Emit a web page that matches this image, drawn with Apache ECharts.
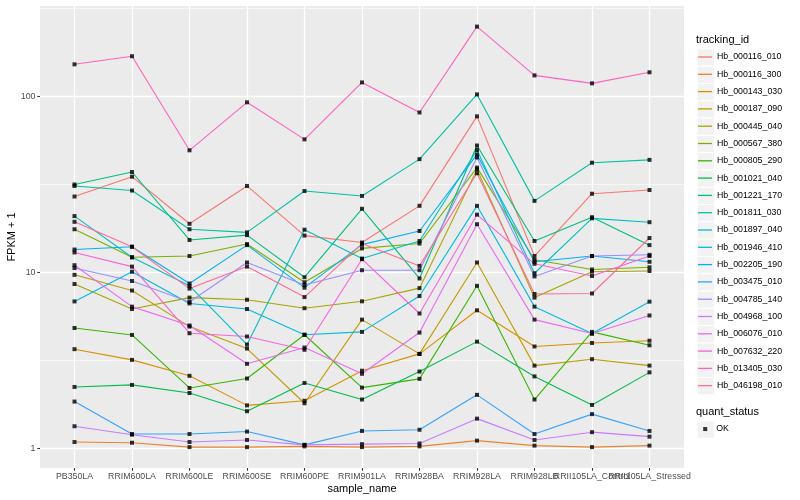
<!DOCTYPE html>
<html><head><meta charset="utf-8">
<script src="https://cdn.jsdelivr.net/npm/echarts@6/dist/echarts.min.js"></script>
<style>html,body{margin:0;padding:0;background:#fff}#c{width:800px;height:500px}</style>
</head><body><div id="c"></div>
<script>
const categories = ['PB350LA','RRIM600LA','RRIM600LE','RRIM600SE','RRIM600PE','RRIM901LA','RRIM928BA','RRIM928LA','RRIM928LB','RRII105LA_Control','RRII105LA_Stressed'];
const trackingIds = ['Hb_000116_010','Hb_000116_300','Hb_000143_030','Hb_000187_090','Hb_000445_040','Hb_000567_380','Hb_000805_290','Hb_001021_040','Hb_001221_170','Hb_001811_030','Hb_001897_040','Hb_001946_410','Hb_002205_190','Hb_003475_010','Hb_004785_140','Hb_004968_100','Hb_006076_010','Hb_007632_220','Hb_013405_030','Hb_046198_010'];
const colors = ['#F8766D','#EA8331','#D89000','#C09B00','#A3A500','#7CAE00','#39B600','#00BB4E','#00BF7D','#00C1A3','#00BFC4','#00BAE0','#00B0F6','#35A2FF','#9590FF','#C77CFF','#E76BF3','#FA62DB','#FF62BC','#FF6C91'];

// FPKM + 1 values, one array per tracking_id, in category order
const Hb_000116_010 = [27.0, 35.0, 18.9, 31.0, 16.2, 14.8, 23.9, 77, 12.4, 28.0, 29.4];
const Hb_000116_300 = [1.09, 1.08, 1.02, 1.02, 1.03, 1.02, 1.03, 1.11, 1.04, 1.02, 1.04];
const Hb_000143_030 = [3.67, 3.19, 2.59, 1.76, 1.87, 2.77, 3.45, 6.1, 3.8, 3.98, 4.1];
const Hb_000187_090 = [9.7, 7.9, 4.93, 3.7, 1.81, 5.4, 3.45, 11.4, 2.96, 3.22, 2.96];
const Hb_000445_040 = [8.6, 6.2, 7.2, 7.0, 6.27, 6.86, 8.15, 38.5, 7.2, 10.1, 10.2];
const Hb_000567_380 = [17.6, 12.2, 12.4, 14.5, 8.8, 13.7, 14.6, 39.4, 11.8, 10.4, 10.7];
const Hb_000805_290 = [4.84, 4.42, 2.21, 2.5, 4.43, 2.22, 2.49, 8.4, 1.9, 4.6, 3.86];
const Hb_001021_040 = [2.24, 2.3, 2.07, 1.63, 2.36, 1.9, 2.74, 4.05, 2.57, 1.77, 2.71];
const Hb_001221_170 = [31.6, 37.2, 15.3, 16.3, 9.4, 23.0, 9.25, 52.6, 15.1, 20.6, 14.3];
const Hb_001811_030 = [31.0, 29.2, 17.6, 16.9, 29.0, 27.2, 44.0, 102.6, 25.5, 42.0, 43.6];
const Hb_001897_040 = [20.9, 12.2, 8.4, 3.9, 17.5, 12.0, 15.1, 49.6, 9.9, 20.3, 19.3];
const Hb_001946_410 = [6.85, 10.1, 6.67, 6.2, 4.43, 4.6, 7.35, 23.9, 6.4, 4.5, 6.83];
const Hb_002205_190 = [13.5, 14.0, 8.66, 14.3, 8.2, 14.4, 17.2, 46.8, 11.5, 12.4, 11.5];
const Hb_003475_010 = [1.85, 1.21, 1.21, 1.25, 1.05, 1.26, 1.28, 2.02, 1.21, 1.57, 1.26];
const Hb_004785_140 = [10.6, 8.95, 6.8, 11.4, 8.5, 10.3, 10.3, 45, 9.5, 12.4, 12.6];
const Hb_004968_100 = [1.34, 1.2, 1.09, 1.12, 1.05, 1.06, 1.07, 1.48, 1.12, 1.24, 1.17];
const Hb_006076_010 = [11.0, 6.4, 5.0, 3.03, 3.75, 2.66, 4.56, 18.8, 5.4, 4.5, 5.7];
const Hb_007632_220 = [13.0, 10.8, 4.52, 4.33, 3.64, 11.9, 5.85, 21.3, 11.2, 9.55, 12.4];
const Hb_013405_030 = [152, 169, 49.4, 92.5, 57, 120, 81, 249, 131.5, 118.5, 137];
const Hb_046198_010 = [19.4, 14.0, 8.1, 10.8, 7.25, 14.6, 10.9, 36.6, 7.55, 7.6, 15.7];

const yTickValues = [1, 10, 100];
const yTickLabels = ['1', '10', '100'];
const yMinorValues = [3.1623, 31.623, 316.23];
const quantStatus = ['OK'];

const seriesValues = [Hb_000116_010,Hb_000116_300,Hb_000143_030,Hb_000187_090,Hb_000445_040,Hb_000567_380,Hb_000805_290,Hb_001021_040,Hb_001221_170,Hb_001811_030,Hb_001897_040,Hb_001946_410,Hb_002205_190,Hb_003475_010,Hb_004785_140,Hb_004968_100,Hb_006076_010,Hb_007632_220,Hb_013405_030,Hb_046198_010];

const font = '"Liberation Sans", Arial, Helvetica, sans-serif';
const lg = v => Math.log10(v);
const yMin = -0.11, yMax = 2.513;
const xMin = -0.6, xMax = 10.6;

const series = trackingIds.map((id, k) => ({
  name: id, type: 'line', xAxisIndex: 0, yAxisIndex: 0,
  data: seriesValues[k].map((v, i) => [i, lg(v)]),
  symbol: 'none', showSymbol: false,
  lineStyle: { color: colors[k], width: 1.1 },
  itemStyle: { color: colors[k] },
  emphasis: { disabled: true }, silent: true, z: 2
}));
const pts = [];
seriesValues.forEach(arr => arr.forEach((v, i) => pts.push([i, lg(v)])));
series.push({
  name: 'OK', type: 'scatter', xAxisIndex: 0, yAxisIndex: 0, data: pts,
  symbol: 'rect', symbolSize: 4, itemStyle: { color: '#000' },
  emphasis: { disabled: true }, silent: true, z: 3
});

const keyTop = 48.35, keyH = 17.3;
const keyRects = trackingIds.map((id, i) => ({
  type: 'rect', left: 696.5, top: keyTop + i * keyH,
  shape: { width: 17.3, height: 17.3 },
  style: { fill: '#F2F2F2', stroke: '#ffffff', lineWidth: 1 }, z: -1
}));
keyRects.push({
  type: 'rect', left: 696.5, top: 420.4,
  shape: { width: 17.3, height: 17.3 },
  style: { fill: '#F2F2F2', stroke: '#ffffff', lineWidth: 1 }, z: -1
});

const xIdx = categories.map((c, i) => i);
const xLabelVals = [xMin].concat(xIdx, [xMax]);
const chart = echarts.init(document.getElementById('c'), null, { renderer: 'canvas' });
chart.setOption({
  animation: false,
  backgroundColor: '#ffffff',
  textStyle: { fontFamily: font },
  grid: { left: 40, right: 116, top: 6, bottom: 32, show: true, backgroundColor: '#EBEBEB', borderWidth: 0, containLabel: false, outerBoundsMode: 'none' },
  title: [
    { text: 'tracking_id', left: 696, top: 34.5, padding: 0, textStyle: { fontSize: 11, fontWeight: 'normal', color: '#000', fontFamily: font } },
    { text: 'quant_status', left: 696, top: 406.5, padding: 0, textStyle: { fontSize: 11, fontWeight: 'normal', color: '#000', fontFamily: font } }
  ],
  legend: [
    { data: trackingIds, orient: 'vertical', left: 698, top: keyTop, padding: 0, itemGap: 0,
      icon: 'rect', itemWidth: 14, itemHeight: 1.3, selectedMode: false,
      textStyle: { fontSize: 8.8, color: '#000', lineHeight: 17.3, fontFamily: font } },
    { data: quantStatus, orient: 'vertical', left: 703.2, top: 420.4, padding: 0, itemGap: 0,
      icon: 'rect', itemWidth: 4, itemHeight: 4, selectedMode: false,
      textStyle: { fontSize: 8.8, color: '#000', lineHeight: 17.3, padding: [0, 0, 0, 4], fontFamily: font } }
  ],
  xAxis: [{
    type: 'value', min: xMin, max: xMax, position: 'bottom',
    name: 'sample_name', nameLocation: 'middle', nameGap: 15, nameMoveOverlap: false,
    nameTextStyle: { fontSize: 11, color: '#000', fontFamily: font },
    axisLine: { show: false, onZero: false },
    axisTick: { show: true, length: 2.75, customValues: xIdx, lineStyle: { color: '#333333', width: 1.1 } },
    axisLabel: { show: true, customValues: xLabelVals, margin: 4.5, fontSize: 8.8, color: '#4D4D4D', fontFamily: font,
      hideOverlap: false,
      formatter: v => (Math.abs(v - Math.round(v)) < 1e-6 && categories[Math.round(v)] !== undefined) ? categories[Math.round(v)] : '' },
    splitLine: { show: true, lineStyle: { color: '#ffffff', width: 1.3 } }
  }],
  yAxis: [{
    type: 'value', min: yMin, max: yMax, position: 'left',
    name: 'FPKM + 1', nameLocation: 'middle', nameGap: 23, nameRotate: 90, nameMoveOverlap: false,
    nameTextStyle: { fontSize: 11, color: '#000', fontFamily: font },
    axisLine: { show: false, onZero: false },
    axisTick: { show: true, length: 2.75, customValues: yTickValues.map(lg), lineStyle: { color: '#333333', width: 1.1 } },
    axisLabel: { show: true, customValues: yTickValues.map(lg), margin: 4.5, fontSize: 8.8, color: '#4D4D4D', fontFamily: font,
      align: 'right', hideOverlap: false,
      formatter: v => yTickLabels[Math.round(v)] },
    splitLine: { show: true, lineStyle: { color: '#ffffff', width: 1.3 } },
    z: 1
  }, {
    type: 'value', min: yMin, max: yMax, position: 'left', offset: 0,
    axisLine: { show: false, onZero: false },
    axisTick: { show: false, customValues: yMinorValues.map(lg) },
    axisLabel: { show: false, customValues: yMinorValues.map(lg) },
    splitLine: { show: true, lineStyle: { color: '#ffffff', width: 0.6 } },
    z: 0
  }],
  graphic: keyRects,
  series: series
});
</script>
</body></html>
